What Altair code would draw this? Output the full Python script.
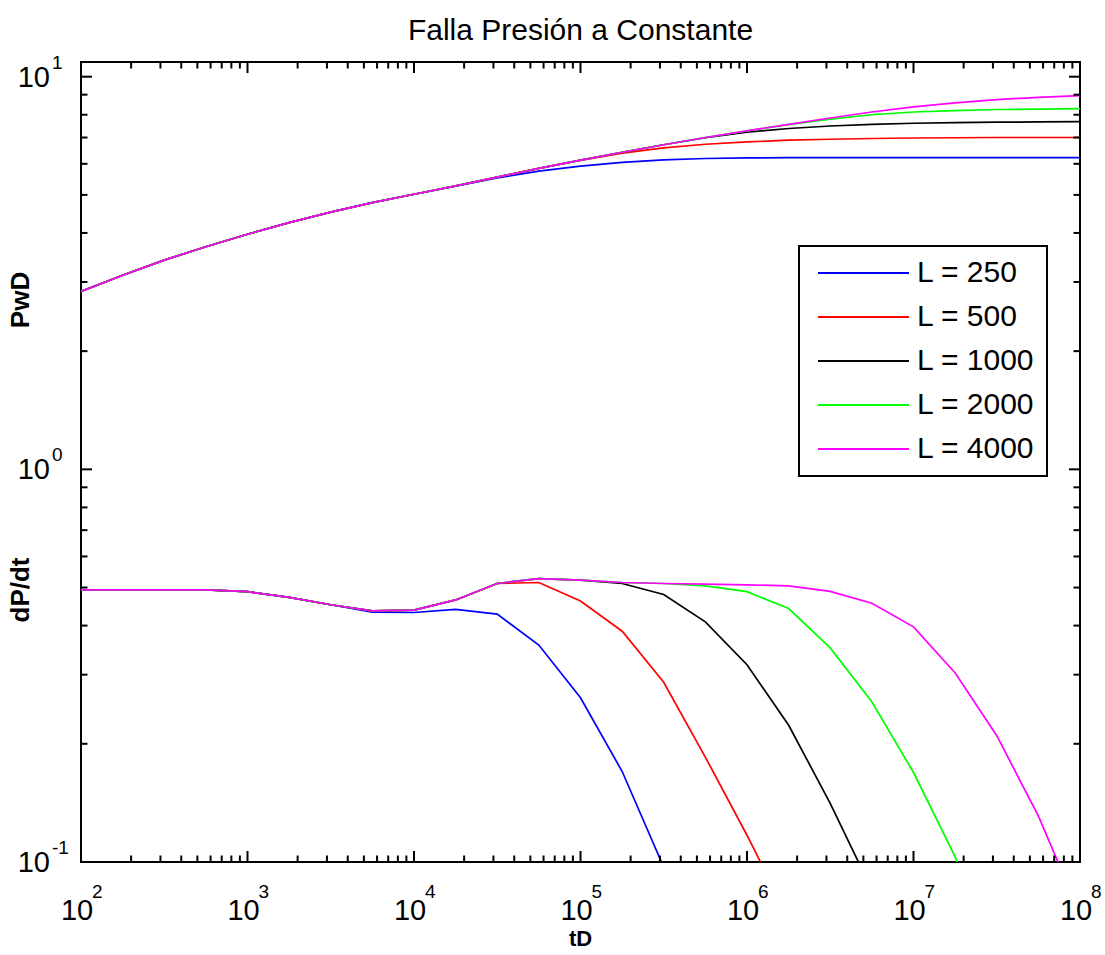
import altair as alt
import pandas as pd

FONT = "Liberation Sans"
TITLE = "Falla Presión a Constante"

TD = [1e2, 1.78e2, 3.16e2, 5.62e2, 1e3, 1.78e3, 3.16e3, 5.62e3, 1e4, 1.78e4, 3.16e4, 5.62e4,
      1e5, 1.78e5, 3.16e5, 5.62e5, 1e6, 1.78e6, 3.16e6, 5.62e6, 1e7, 1.78e7, 3.16e7, 5.62e7, 1e8]

SERIES = ["L = 250", "L = 500", "L = 1000", "L = 2000", "L = 4000"]
COLORS = ["#0000FF", "#FF0000", "#000000", "#00FF00", "#FF00FF"]

PWD_250 = [2.84, 3.12, 3.41, 3.69, 3.97, 4.25, 4.52, 4.78, 5.02, 5.26, 5.52, 5.75, 5.92,
           6.05, 6.14, 6.19, 6.21, 6.22, 6.22, 6.22, 6.22, 6.22, 6.22, 6.22, 6.22]
PWD_500 = [2.84, 3.12, 3.41, 3.69, 3.97, 4.25, 4.52, 4.78, 5.02, 5.27, 5.55, 5.84, 6.12,
           6.39, 6.59, 6.73, 6.82, 6.89, 6.93, 6.96, 6.98, 6.99, 7.00, 7.00, 7.00]
PWD_1000 = [2.84, 3.12, 3.41, 3.69, 3.97, 4.25, 4.52, 4.78, 5.02, 5.27, 5.55, 5.84, 6.13,
            6.42, 6.71, 6.99, 7.22, 7.38, 7.49, 7.56, 7.61, 7.64, 7.66, 7.67, 7.68]
PWD_2000 = [2.84, 3.12, 3.41, 3.69, 3.97, 4.25, 4.52, 4.78, 5.02, 5.27, 5.55, 5.84, 6.13,
            6.42, 6.71, 7.00, 7.28, 7.55, 7.80, 8.00, 8.13, 8.20, 8.25, 8.27, 8.29]
PWD_4000 = [2.84, 3.12, 3.41, 3.69, 3.97, 4.25, 4.52, 4.78, 5.02, 5.27, 5.55, 5.84, 6.13,
            6.42, 6.71, 7.00, 7.28, 7.56, 7.85, 8.13, 8.38, 8.58, 8.74, 8.86, 8.95]

DPDT_250 = [0.493, 0.493, 0.493, 0.493, 0.488, 0.472, 0.452, 0.433, 0.432, 0.440, 0.428,
            0.357, 0.262, 0.170, 0.097, None, None, None, None, None, None, None, None, None, None]
DPDT_500 = [0.493, 0.493, 0.493, 0.493, 0.488, 0.472, 0.452, 0.436, 0.438, 0.465, 0.512,
            0.515, 0.462, 0.387, 0.287, 0.185, 0.117, 0.072, None, None, None, None, None, None, None]
DPDT_1000 = [0.493, 0.493, 0.493, 0.493, 0.488, 0.472, 0.452, 0.436, 0.438, 0.465, 0.512,
             0.527, 0.522, 0.512, 0.480, 0.409, 0.318, 0.223, 0.141, 0.085, None, None, None, None, None]
DPDT_2000 = [0.493, 0.493, 0.493, 0.493, 0.488, 0.472, 0.452, 0.436, 0.438, 0.465, 0.512,
             0.527, 0.522, 0.515, 0.512, 0.505, 0.488, 0.442, 0.351, 0.256, 0.169, 0.103, 0.056, None, None]
DPDT_4000 = [0.493, 0.493, 0.493, 0.493, 0.488, 0.472, 0.452, 0.436, 0.438, 0.465, 0.512,
             0.527, 0.522, 0.515, 0.512, 0.510, 0.508, 0.505, 0.489, 0.456, 0.397, 0.303, 0.210, 0.131, 0.074]

PWD = [PWD_250, PWD_500, PWD_1000, PWD_2000, PWD_4000]
DPDT = [DPDT_250, DPDT_500, DPDT_1000, DPDT_2000, DPDT_4000]

X_MAJOR = [1e2, 1e3, 1e4, 1e5, 1e6, 1e7, 1e8]
X_EXP = ["2", "3", "4", "5", "6", "7", "8"]
X_MINOR = [m * 10.0 ** e for e in range(2, 8) for m in range(2, 10)]
Y_MAJOR = [0.1, 1.0, 10.0]
Y_EXP = ["-1", "0", "1"]
Y_MINOR = [m / 10.0 for m in range(2, 10)] + [float(m) for m in range(2, 10)]

rows = []
for name, pw, dp in zip(SERIES, PWD, DPDT):
    for t, v in zip(TD, pw):
        rows.append({"L": name, "curve": "PwD", "tD": t, "v": v})
    for t, v in zip(TD, dp):
        if v is not None:
            rows.append({"L": name, "curve": "dPdt", "tD": t, "v": v})
df = pd.DataFrame(rows)

W, H = 999, 800
MAJ, MIN = 11, 6.5
xscale = alt.Scale(type="log", domain=[1e2, 1e8], nice=False)
yscale = alt.Scale(type="log", domain=[0.1, 10.9], nice=False)

lines = alt.Chart(df).mark_line(strokeWidth=1.7, clip=True).encode(
    x=alt.X("tD:Q", scale=xscale, axis=None),
    y=alt.Y("v:Q", scale=yscale, axis=None),
    color=alt.Color(
        "L:N",
        scale=alt.Scale(domain=SERIES, range=COLORS),
        sort=SERIES,
        legend=alt.Legend(
            orient="none", legendX=718, legendY=184, title=None,
            symbolType="stroke", symbolSize=8281, symbolStrokeWidth=2,
            labelFontSize=30, labelFont=FONT, labelColor="black",
            strokeColor="black", fillColor="white",
            padding=12, rowPadding=14, clipHeight=30,
            symbolOffset=6, labelOffset=7, labelLimit=400,
        ),
    ),
    detail="curve:N",
)


def xticks(vals, length, top):
    d = pd.DataFrame({"t": vals})
    if top:
        enc = dict(y=alt.value(0), y2=alt.value(length))
    else:
        enc = dict(y=alt.value(H), y2=alt.value(H - length))
    return alt.Chart(d).mark_rule(color="black", strokeWidth=2).encode(
        x=alt.X("t:Q", scale=xscale, axis=None), **enc)


def yticks(vals, length, right):
    d = pd.DataFrame({"t": vals})
    if right:
        enc = dict(x=alt.value(W), x2=alt.value(W - length))
    else:
        enc = dict(x=alt.value(0), x2=alt.value(length))
    return alt.Chart(d).mark_rule(color="black", strokeWidth=2).encode(
        y=alt.Y("t:Q", scale=yscale, axis=None), **enc)


ticks = [xticks(X_MAJOR, MAJ, False), xticks(X_MINOR, MIN, False),
         xticks(X_MAJOR, MAJ, True), xticks(X_MINOR, MIN, True),
         yticks(Y_MAJOR, MAJ, False), yticks(Y_MINOR, MIN, False),
         yticks(Y_MAJOR, MAJ, True), yticks(Y_MINOR, MIN, True)]

xlab = pd.DataFrame({"t": X_MAJOR, "base": ["10"] * len(X_MAJOR), "exp": X_EXP})
ylab = pd.DataFrame({"t": Y_MAJOR, "base": ["10"] * len(Y_MAJOR), "exp": Y_EXP})

xbase = alt.Chart(xlab).mark_text(font=FONT, fontSize=29, align="center", baseline="alphabetic",
                                  dx=-4, color="black").encode(
    x=alt.X("t:Q", scale=xscale, axis=None), y=alt.value(H + 58), text="base:N")
xexp = alt.Chart(xlab).mark_text(font=FONT, fontSize=19, align="left", baseline="alphabetic",
                                 dx=11, color="black").encode(
    x=alt.X("t:Q", scale=xscale, axis=None), y=alt.value(H + 36), text="exp:N")
ybase = alt.Chart(ylab).mark_text(font=FONT, fontSize=29, align="right", baseline="middle",
                                  dy=1, color="black").encode(
    y=alt.Y("t:Q", scale=yscale, axis=None), x=alt.value(-31), text="base:N")
yexp = alt.Chart(ylab).mark_text(font=FONT, fontSize=19, align="left", baseline="alphabetic",
                                 dy=-8, color="black").encode(
    y=alt.Y("t:Q", scale=yscale, axis=None), x=alt.value(-29), text="exp:N")

texts = pd.DataFrame({"s": [TITLE]})
title = alt.Chart(texts).mark_text(font=FONT, fontSize=30, align="center", baseline="alphabetic",
                                   color="black").encode(
    x=alt.value(W / 2), y=alt.value(-22), text="s:N")
xt = alt.Chart(pd.DataFrame({"s": ["tD"]})).mark_text(
    font=FONT, fontSize=22, fontWeight="bold", align="center", baseline="middle", color="black"
).encode(x=alt.value(W / 2), y=alt.value(877), text="s:N")
yt1 = alt.Chart(pd.DataFrame({"s": ["PwD"]})).mark_text(
    font=FONT, fontSize=26, fontWeight="bold", align="center", baseline="middle", angle=270,
    color="black").encode(x=alt.value(-60), y=alt.value(238), text="s:N")
yt2 = alt.Chart(pd.DataFrame({"s": ["dP/dt"]})).mark_text(
    font=FONT, fontSize=26, fontWeight="bold", align="center", baseline="middle", angle=270,
    color="black").encode(x=alt.value(-60), y=alt.value(528), text="s:N")

chart = alt.layer(lines, *ticks, xbase, xexp, ybase, yexp, title, xt, yt1, yt2).properties(
    width=W, height=H,
    autosize=alt.AutoSizeParams(type="none"),
    padding={"left": 81, "top": 62, "right": 25, "bottom": 93},
    background="white",
).configure_view(stroke="black", strokeWidth=2).configure_legend(strokeWidth=2)

chart.save("out.html", embed_options={"renderer": "svg", "actions": False})
